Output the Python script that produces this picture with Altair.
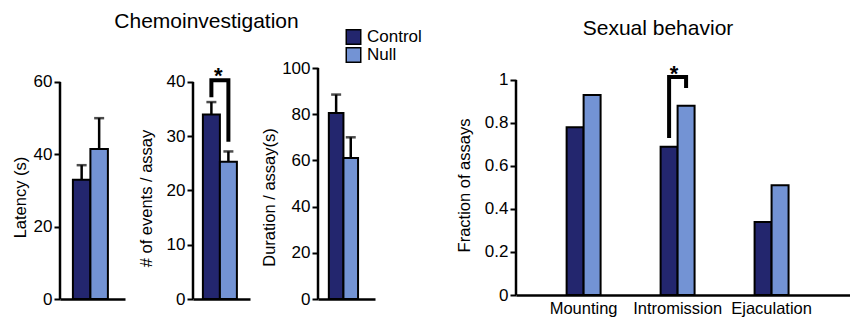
import altair as alt
import pandas as pd

FONT = "Liberation Sans"

conditions = ["Control", "Null"]
colors = ["#23266e", "#7393d4"]

latency = [33.0, 41.5]
latency_err = [4.0, 8.5]
events = [34.0, 25.3]
events_err = [2.3, 1.9]
duration = [80.5, 61.0]
duration_err = [8.0, 9.0]

behaviors = ["Mounting", "Intromission", "Ejaculation"]
frac_control = [0.78, 0.69, 0.34]
frac_null = [0.93, 0.88, 0.51]

latency_ticks = [0, 10, 20, 30, 40, 50, 60]
events_ticks = [0, 5, 10, 15, 20, 25, 30, 35, 40]
duration_ticks = [0, 10, 20, 30, 40, 50, 60, 70, 80, 90, 100]
frac_ticks = [0, 0.1, 0.2, 0.3, 0.4, 0.5, 0.6, 0.7, 0.8, 0.9, 1.0]

# significance brackets (y levels of the path) and star level
events_bracket = [37.2, 40.3, 40.3, 29.0]
events_star = 41.8
frac_bracket = [0.73, 1.014, 1.014, 0.963]
frac_star = 1.047

color_scale = alt.Scale(domain=conditions, range=colors)
LEGEND = alt.Legend(orient="none", legendX=285, legendY=-39, title=None,
                    symbolType="square", symbolSize=210, symbolStrokeColor="black",
                    symbolStrokeWidth=1.5, symbolOpacity=1, labelFontSize=17,
                    labelFont=FONT, labelColor="black", labelOffset=5,
                    clipHeight=16, rowPadding=1, padding=0)


def y_axis(title, ticks, label_expr, title_y, title_pad):
    return alt.Axis(
        values=ticks, labelExpr=label_expr, domain=False, grid=False,
        ticks=True, tickSize=6, tickWidth=2, tickColor="black",
        labelFontSize=17, labelColor="black", labelFont=FONT, labelPadding=2,
        title=title, titleFontSize=16.5, titleFont=FONT, titleFontWeight="normal",
        titleColor="black", titlePadding=title_pad, titleY=title_y,
    )


def title_params(text, dx, offset):
    return alt.TitleParams(text, fontSize=21, font=FONT, fontWeight="normal",
                           color="black", anchor="middle", dx=dx, offset=offset)


def small_panel(vals, errs, ticks, label_step, dmax, title, title_y, title_pad, width,
                height, po, al, bracket=None, star=None):
    df = pd.DataFrame({
        "cond": conditions,
        "v": vals,
        "top": [v + e for v, e in zip(vals, errs)],
    })
    xs = alt.Scale(domain=conditions, paddingInner=0, paddingOuter=po, align=al)
    xax = alt.Axis(labels=False, ticks=False, title=None, domain=True,
                   domainColor="black", domainWidth=2.5, grid=False)
    expr = f"datum.value % {label_step} === 0 ? datum.label : ''"
    ys = alt.Scale(domain=[0, dmax], nice=False, zero=True)
    base = alt.Chart(df)
    bars = base.mark_bar(stroke="black", strokeWidth=2).encode(
        x=alt.X("cond:N", scale=xs, axis=xax),
        y=alt.Y("v:Q", scale=ys, axis=y_axis(title, ticks, expr, title_y, title_pad)),
        color=alt.Color("cond:N", scale=color_scale, legend=LEGEND),
    )
    err = base.mark_rule(strokeWidth=2.5, color="black").encode(
        x="cond:N", y="top:Q", y2="v:Q")
    cap = base.mark_tick(size=10, thickness=2.5, color="black", orient="horizontal").encode(
        x="cond:N", y="top:Q")
    axis_line = alt.Chart(pd.DataFrame({"a": [ticks[0]], "b": [ticks[-1]]})).mark_rule(
        strokeWidth=2.5, color="black").encode(x=alt.value(0), y="a:Q", y2="b:Q")
    layers = [err, cap, bars, axis_line]
    if bracket is not None:
        bdf = pd.DataFrame({"cond": ["Control", "Control", "Null", "Null"],
                            "y": bracket, "o": [0, 1, 2, 3]})
        layers.append(alt.Chart(bdf).mark_line(color="black", strokeWidth=4,
                                               strokeJoin="miter", strokeCap="butt").encode(
            x="cond:N", y="y:Q", order="o:Q"))
        sdf = pd.DataFrame({"cond": ["Control"], "y": [star], "t": ["*"]})
        layers.append(alt.Chart(sdf).mark_text(fontSize=22, font=FONT, fontWeight="bold",
                                               dx=7, dy=4, baseline="middle").encode(
            x="cond:N", y="y:Q", text="t:N"))
    return alt.layer(*layers).properties(width=width, height=height)


p1 = small_panel(latency, latency_err, latency_ticks, 20, 63.87, "Latency (s)", 129, 5,
                 65, 231, 0.857, 0.43)
p2 = small_panel(events, events_err, events_ticks, 10, 42.58, "# of events / assay", 130, 12,
                 57, 231, 0.676, 0.43, bracket=events_bracket, star=events_star).properties(
    title=title_params("Chemoinvestigation", -15, 33))
p3 = small_panel(duration, duration_err, duration_ticks, 20, 100, "Duration / assay(s)", 129, 4,
                 57, 231, 0.95, 0.39)

# empty spacer between the two figure groups
spacer = alt.Chart(pd.DataFrame({"t": [""]})).mark_text().encode(
    text="t:N").properties(width=5, height=231)

# Sexual behavior panel
rows = []
for b, c, n in zip(behaviors, frac_control, frac_null):
    rows.append({"beh": b, "cond": "Control", "v": c})
    rows.append({"beh": b, "cond": "Null", "v": n})
fdf = pd.DataFrame(rows)
xs4 = alt.Scale(domain=behaviors, paddingInner=0.277, paddingOuter=0.426, align=0.42)
xo4 = alt.Scale(domain=conditions, paddingInner=0, paddingOuter=1)
xax4 = alt.Axis(labels=True, ticks=False, title=None, domain=True, domainColor="black",
                domainWidth=2.5, labelAngle=0, labelFontSize=16.5, labelFont=FONT,
                labelColor="black", labelPadding=5, grid=False)
ys4 = alt.Scale(domain=[0, 1.0558], nice=False, zero=True)
expr4 = "round(datum.value * 10) % 2 === 0 ? format(datum.value, '~g') : ''"
bars4 = alt.Chart(fdf).mark_bar(stroke="black", strokeWidth=2).encode(
    x=alt.X("beh:N", scale=xs4, axis=xax4, sort=behaviors),
    xOffset=alt.XOffset("cond:N", scale=xo4),
    y=alt.Y("v:Q", scale=ys4,
            axis=y_axis("Fraction of assays", frac_ticks, expr4, 117, 12)),
    color=alt.Color("cond:N", scale=color_scale, legend=LEGEND),
)
axis4 = alt.Chart(pd.DataFrame({"a": [0], "b": [1]})).mark_rule(
    strokeWidth=2.5, color="black").encode(x=alt.value(0), y="a:Q", y2="b:Q")
b4 = pd.DataFrame({"beh": ["Intromission"] * 4,
                   "cond": ["Control", "Control", "Null", "Null"],
                   "y": frac_bracket, "o": [0, 1, 2, 3]})
bracket4 = alt.Chart(b4).mark_line(color="black", strokeWidth=4, strokeJoin="miter",
                                   strokeCap="butt").encode(
    x=alt.X("beh:N", sort=behaviors), xOffset="cond:N", y="y:Q", order="o:Q")
s4 = pd.DataFrame({"beh": ["Intromission"], "cond": ["Control"], "y": [frac_star], "t": ["*"]})
star4 = alt.Chart(s4).mark_text(fontSize=22, font=FONT, fontWeight="bold", dx=5, dy=4,
                                baseline="middle").encode(
    x=alt.X("beh:N", sort=behaviors), xOffset="cond:N", y="y:Q", text="t:N")
p4 = alt.layer(bars4, axis4, bracket4, star4).properties(
    width=336, height=227, title=title_params("Sexual behavior", -26, 24))

chart = alt.hconcat(p1, p2, p3, spacer, p4, spacing=68, bounds="flush").properties(
    autosize=alt.AutoSizeParams(type="none"),
    padding={"left": 60, "top": 68, "right": 790, "bottom": 257},
    background="white",
).configure_view(stroke=None)

chart.save("out.html", embed_options={"renderer": "svg", "actions": False})
